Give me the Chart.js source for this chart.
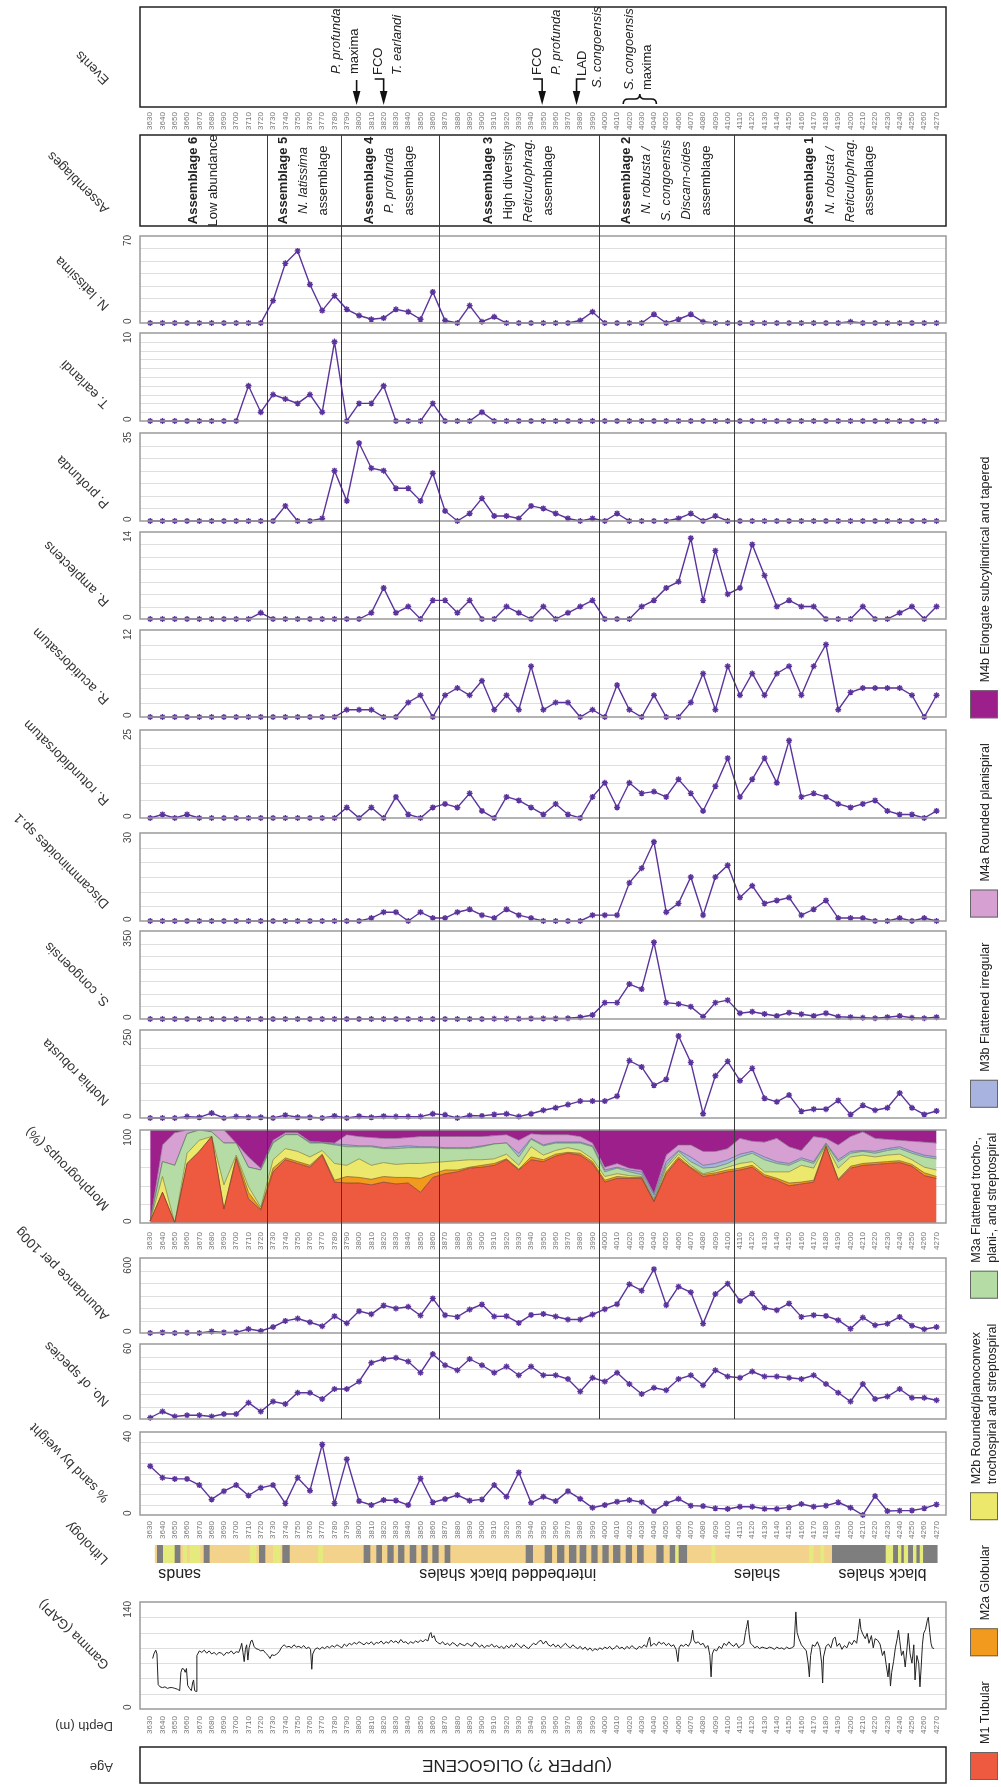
<!DOCTYPE html>
<html>
<head>
<meta charset="utf-8">
<title>Well section</title>
<script src="https://cdn.jsdelivr.net/npm/chart.js@4.4.1/dist/chart.umd.min.js"></script>
<style>
  html, body { margin: 0; padding: 0; background: #fff; }
  body { position: relative; width: 1001px; height: 1787px; overflow: hidden; }
  canvas { position: absolute; left: 0; }
</style>
</head>
<body>
<script>
// sample depths (m)
const depths = [3630, 3640, 3650, 3660, 3670, 3680, 3690, 3700, 3710, 3720,
  3730, 3740, 3750, 3760, 3770, 3780, 3790, 3800, 3810, 3820,
  3830, 3840, 3850, 3860, 3870, 3880, 3890, 3900, 3910, 3920,
  3930, 3940, 3950, 3960, 3970, 3980, 3990, 4000, 4010, 4020,
  4030, 4040, 4050, 4060, 4070, 4080, 4090, 4100, 4110, 4120,
  4130, 4140, 4150, 4160, 4170, 4180, 4190, 4200, 4210, 4220,
  4230, 4240, 4250, 4260, 4270];

const nLatissima = [0, 0, 0, 0, 0, 0, 0, 0, 0, 0,
  18, 48, 58, 31, 10, 22, 11, 6, 3, 4,
  11, 9, 3, 25, 2, 0, 14, 1, 5, 0,
  0, 0, 0, 0, 0, 2, 9, 0, 0, 0,
  0, 7, 0, 3, 7, 1, 0, 0, 0, 0,
  0, 0, 0, 0, 0, 0, 0, 1, 0, 0,
  0, 0, 0, 0, 0];
const tEarlandi = [0, 0, 0, 0, 0, 0, 0, 0, 4, 1,
  3, 2.5, 2, 3, 1, 9, 0, 2, 2, 4,
  0, 0, 0, 2, 0, 0, 0, 1, 0, 0,
  0, 0, 0, 0, 0, 0, 0, 0, 0, 0,
  0, 0, 0, 0, 0, 0, 0, 0, 0, 0,
  0, 0, 0, 0, 0, 0, 0, 0, 0, 0,
  0, 0, 0, 0, 0];
const pProfunda = [0, 0, 0, 0, 0, 0, 0, 0, 0, 0,
  0, 6, 0, 0, 1, 20, 8, 31, 21, 20,
  13, 13, 8, 19, 4, 0, 3, 9, 2, 2,
  1, 6, 5, 3, 1, 0, 1, 0, 3, 0,
  0, 0, 0, 1, 3, 0, 2, 0, 0, 0,
  0, 0, 0, 0, 0, 0, 0, 0, 0, 0,
  0, 0, 0, 0, 0];
const rAmplectens = [0, 0, 0, 0, 0, 0, 0, 0, 0, 1,
  0, 0, 0, 0, 0, 0, 0, 0, 1, 5,
  1, 2, 0, 3, 3, 1, 3, 0, 0, 2,
  1, 0, 2, 0, 1, 2, 3, 0, 0, 0,
  2, 3, 5, 6, 13, 3, 11, 4, 5, 12,
  7, 2, 3, 2, 2, 0, 0, 0, 2, 0,
  0, 1, 2, 0, 2];
const rAcutidorsatum = [0, 0, 0, 0, 0, 0, 0, 0, 0, 0,
  0, 0, 0, 0, 0, 0, 1, 1, 1, 0,
  0, 2, 3, 0, 3, 4, 3, 5, 1, 3,
  1, 7, 1, 2, 2, 0, 1, 0, 4.4, 1,
  0, 3, 0, 0, 2, 6, 1, 7, 3, 6,
  3, 6, 7, 3, 7, 10, 1, 3.4, 4, 4,
  4, 4, 3, 0, 3];
const rRotundidorsatum = [0, 1, 0, 1, 0, 0, 0, 0, 0, 0,
  0, 0, 0, 0, 0, 0, 3, 0, 3, 0,
  6, 1, 0, 3, 4, 3, 7, 2, 0, 6,
  5, 3, 1, 4, 1, 0, 6, 10, 3, 10,
  7, 7.5, 6, 11, 7, 2, 9, 17, 6, 11,
  17, 10, 22, 6, 7, 6, 4, 3, 4, 5,
  2, 1, 1, 0, 2];
const discamminoides = [0, 0, 0, 0, 0, 0, 0, 0, 0, 0,
  0, 0, 0, 0, 0, 0, 0, 0, 1, 3,
  3, 0, 3, 1, 1, 3, 4, 2, 1, 4,
  2, 1, 0, 0, 0, 0, 2, 2, 2, 13,
  18, 27, 3, 6, 15, 2, 15, 19, 8, 12,
  6, 7, 8, 2, 4, 7, 1, 1, 1, 0,
  0, 1, 0, 1, 0];
const sCongoensis = [0, 0, 0, 0, 0, 0, 0, 0, 0, 0,
  0, 0, 0, 0, 0, 0, 0, 0, 0, 0,
  0, 0, 0, 0, 0, 0, 0, 0, 1, 1,
  1, 2, 2, 2, 3, 7, 16, 65, 65, 139,
  119, 305, 65, 60, 49, 9, 65, 75, 23, 29,
  20, 12, 25, 19, 12, 23, 9, 7, 5, 3,
  7, 12, 5, 3, 7];
const nothiaRobusta = [0, 0, 0, 4, 2, 14, 0, 4, 2, 2,
  0, 8, 2, 2, 0, 6, 0, 5, 2, 5,
  4, 4, 4, 12, 9, 0, 7, 6, 10, 12,
  4, 12, 22, 29, 38, 48, 48, 48, 62, 163,
  145, 93, 110, 233, 158, 12, 120, 161, 106, 141,
  56, 46, 65, 19, 25, 25, 50, 10, 36, 22,
  29, 71, 29, 10, 20];

// morphogroup percentages, bottom (M1) to top (M4b)
const m1 = [2, 33, 0, 64, 77, 93, 15, 69, 26, 14,
  55, 68, 64, 60, 73, 44, 43, 43, 41, 44,
  42, 43, 33, 49, 53, 55, 59, 60, 62, 68,
  57, 68, 66, 72, 75, 73, 64, 44, 48, 48,
  48, 23, 53, 69, 59, 50, 52, 55, 57, 60,
  50, 46, 40, 42, 44, 82, 46, 59, 62, 63,
  64, 65, 61, 51, 48];
const m2a = [0, 0, 0, 0, 0, 0, 0, 2, 7, 1,
  4, 2, 2, 2, 1, 2, 7, 6, 6, 6,
  7, 6, 15, 4, 4, 2, 1, 2, 2, 1,
  1, 3, 2, 2, 1, 2, 2, 2, 2, 1,
  1, 0, 2, 2, 1, 2, 2, 2, 2, 2,
  2, 2, 3, 2, 2, 1, 1, 2, 2, 2,
  2, 2, 2, 3, 2];
const m2b = [0, 17, 0, 11, 12, 0, 26, 2, 6, 2,
  9, 10, 11, 9, 4, 18, 12, 20, 15, 15,
  14, 15, 16, 12, 9, 10, 8, 6, 5, 5,
  4, 11, 5, 4, 5, 3, 3, 4, 3, 2,
  1, 1, 4, 3, 2, 1, 2, 3, 5, 4,
  3, 7, 12, 18, 13, 1, 12, 10, 9, 6,
  7, 7, 5, 6, 7];
const m3a = [0, 16, 62, 21, 11, 5, 45, 13, 21, 40,
  18, 15, 18, 15, 8, 20, 20, 13, 20, 15,
  17, 17, 17, 16, 14, 13, 12, 14, 16, 12,
  9, 8, 10, 8, 5, 8, 13, 5, 6, 4,
  2, 2, 3, 3, 4, 6, 4, 4, 7, 9,
  13, 9, 7, 6, 5, 1, 7, 4, 4, 4,
  5, 6, 7, 11, 12];
const m3b = [0, 0, 0, 0, 0, 0, 0, 0, 0, 0,
  1, 0, 0, 1, 0, 1, 2, 1, 1, 1,
  2, 2, 1, 1, 1, 1, 1, 1, 0, 0,
  4, 1, 1, 1, 1, 1, 1, 2, 1, 2,
  3, 4, 4, 1, 5, 3, 4, 4, 3, 2,
  3, 2, 2, 2, 2, 1, 2, 2, 1, 2,
  2, 2, 2, 2, 2];
const m4a = [0, 18, 35, 4, 0, 2, 14, 0, 11, 2,
  2, 2, 2, 1, 1, 1, 11, 10, 9, 10,
  9, 9, 11, 11, 12, 12, 12, 10, 9, 9,
  14, 5, 11, 8, 8, 6, 3, 3, 4, 2,
  2, 2, 7, 6, 13, 15, 13, 12, 17, 11,
  16, 25, 18, 8, 27, 5, 16, 16, 20, 14,
  10, 7, 11, 14, 15];
const m4b = [98, 16, 3, 0, 0, 0, 0, 14, 29, 41,
  11, 3, 3, 12, 13, 14, 5, 7, 8, 9,
  9, 8, 7, 7, 7, 7, 7, 7, 6, 5,
  11, 4, 5, 5, 5, 7, 14, 40, 36, 41,
  43, 68, 27, 16, 16, 23, 23, 20, 9, 12,
  13, 9, 18, 22, 7, 9, 16, 7, 2, 9,
  10, 11, 12, 13, 14];
const morphLabels = ['M1 Tubular', 'M2a Globular',
  'M2b Rounded/planoconvex trochospiral and streptospiral',
  'M3a Flattened trocho-, plani-, and streptospiral',
  'M3b Flattened irregular', 'M4a Rounded planispiral',
  'M4b Elongate subcylindrical and tapered'];

const abundance = [0, 5, 0, 3, 0, 13, 5, 5, 32, 16,
  48, 97, 116, 86, 54, 135, 78, 175, 151, 221,
  196, 210, 140, 277, 143, 129, 188, 229, 132, 135,
  81, 145, 153, 132, 108, 108, 148, 191, 231, 390,
  339, 511, 223, 371, 326, 75, 312, 395, 256, 317,
  202, 183, 237, 129, 143, 137, 102, 35, 124, 62,
  75, 129, 59, 30, 48];
const species = [1, 6, 2, 3, 3, 2, 4, 4, 13, 6,
  14, 12, 21, 21, 16, 24, 24, 30, 45, 48,
  49, 46, 37, 52, 43, 39, 48, 43, 37, 42,
  35, 42, 35, 35, 32, 22, 33, 30, 37, 28,
  20, 25, 23, 32, 35, 27, 39, 34, 33, 38,
  34, 34, 33, 32, 35, 28, 21, 14, 28, 16,
  18, 24, 17, 17, 15];
const sandPct = [23.5, 18, 17.4, 17.4, 14.4, 7.5, 11.5, 14.4, 9.4, 13.1,
  14.4, 5.6, 18, 11.7, 34, 5.6, 26.9, 6.7, 4.8, 7.2,
  7, 4.8, 17.6, 6.1, 7.7, 9.6, 6.9, 7.5, 14.4, 8.8,
  20.5, 5.9, 8.8, 6.7, 11.5, 7.8, 3.5, 4.8, 6.4, 7.2,
  6.2, 1.9, 5.6, 7.8, 4.5, 4.3, 3.2, 2.9, 4, 4,
  3, 3, 3.7, 5.3, 4, 4.5, 6.1, 3.5, 0, 9.1,
  1.9, 2.1, 2.2, 3.2, 5.1];

// gamma ray log: [depth, GAPI]
const gammaLog = [[3632, 66], [3633, 72], [3634.5, 77], [3635.5, 72], [3636.5, 32], [3638, 29],
  [3640, 28], [3642, 29], [3644, 27], [3646, 28], [3648, 28], [3650, 27], [3652, 26], [3654, 24],
  [3655, 48], [3656, 53], [3657.5, 52], [3658.5, 48], [3659.5, 53], [3660.5, 31], [3662, 27],
  [3663.5, 24], [3664.5, 34], [3665.3, 38], [3666.2, 24], [3667.3, 23], [3668, 70], [3670, 76],
  [3672, 74], [3674, 77], [3676, 73], [3678, 76], [3680, 72], [3682, 74], [3684, 71], [3686, 74],
  [3688, 73], [3690, 70], [3692, 74], [3694, 73], [3696, 76], [3698, 72], [3700, 75], [3702, 74],
  [3703.5, 80], [3704.5, 86], [3705.5, 74], [3706.5, 62], [3707.5, 78], [3708.5, 84], [3709.5, 64],
  [3710.5, 80], [3712, 89], [3713, 90], [3714.5, 82], [3716, 79], [3718, 78], [3720, 76], [3722, 77],
  [3724, 73], [3726, 70], [3727.5, 66], [3729, 71], [3731, 70], [3733, 72], [3735, 75], [3737, 81],
  [3739, 84], [3741, 81], [3743, 82], [3745, 80], [3747, 84], [3749, 81], [3751, 82], [3753, 80],
  [3755, 83], [3757, 79], [3759, 81], [3760.5, 78], [3761.5, 52], [3762.3, 72], [3764, 78], [3766, 80],
  [3768, 78], [3770, 81], [3772, 79], [3774, 82], [3776, 80], [3778, 83], [3780, 81], [3782, 84],
  [3784, 82], [3786, 80], [3788, 85], [3790, 82], [3792, 86], [3794, 84], [3796, 87], [3798, 85],
  [3800, 88], [3802, 86], [3804, 84], [3806, 87], [3808, 85], [3810, 88], [3812, 84], [3814, 87],
  [3816, 86], [3818, 89], [3820, 85], [3822, 88], [3824, 86], [3826, 90], [3828, 87], [3830, 89],
  [3832, 86], [3834, 91], [3836, 87], [3838, 88], [3840, 85], [3842, 88], [3844, 86], [3846, 89],
  [3848, 87], [3850, 90], [3852, 88], [3854, 91], [3856, 89], [3857.5, 98], [3858.5, 100], [3859.5, 93],
  [3861, 96], [3862.5, 89], [3864, 87], [3866, 85], [3868, 88], [3870, 84], [3872, 86], [3874, 83],
  [3876, 87], [3878, 85], [3880, 82], [3882, 86], [3884, 84], [3886, 83], [3888, 86], [3890, 84],
  [3892, 82], [3894, 87], [3896, 85], [3898, 81], [3900, 84], [3902, 80], [3904, 83], [3906, 82],
  [3908, 85], [3910, 81], [3912, 83], [3914, 80], [3916, 82], [3918, 79], [3920, 83], [3922, 80],
  [3924, 84], [3926, 81], [3928, 86], [3930, 83], [3932, 80], [3934, 84], [3936, 81], [3938, 79],
  [3940, 83], [3942, 86], [3944, 84], [3946, 88], [3948, 90], [3950, 85], [3952, 89], [3954, 84],
  [3956, 82], [3958, 85], [3960, 81], [3962, 84], [3964, 80], [3966, 83], [3968, 86], [3970, 82],
  [3972, 80], [3974, 84], [3976, 81], [3978, 79], [3980, 82], [3982, 78], [3984, 81], [3986, 77],
  [3988, 80], [3990, 76], [3992, 79], [3994, 77], [3996, 80], [3998, 78], [4000, 81], [4002, 79],
  [4004, 82], [4006, 78], [4008, 80], [4010, 83], [4012, 79], [4014, 81], [4016, 78], [4018, 82],
  [4020, 79], [4022, 83], [4024, 80], [4026, 78], [4028, 82], [4030, 80], [4032, 84], [4034, 81],
  [4035.5, 90], [4036.5, 94], [4037.5, 82], [4040, 86], [4042, 83], [4044, 88], [4046, 85], [4048, 87],
  [4050, 83], [4052, 86], [4054, 82], [4056, 84], [4058, 78], [4059.5, 62], [4060.5, 80], [4062, 84],
  [4064, 82], [4066, 85], [4068, 82], [4070, 88], [4071.5, 103], [4072.5, 90], [4074, 86], [4076, 88],
  [4078, 84], [4080, 86], [4082, 80], [4084, 83], [4085.5, 70], [4086.5, 42], [4087.5, 72], [4089, 78],
  [4091, 76], [4093, 82], [4095, 79], [4097, 86], [4099, 83], [4101, 88], [4103, 84], [4105, 82],
  [4107, 86], [4109, 80], [4111, 83], [4113, 85], [4114.5, 100], [4115.5, 108], [4116.5, 116],
  [4117.5, 98], [4118.5, 86], [4120, 84], [4122, 80], [4124, 82], [4126, 79], [4128, 81], [4130, 80],
  [4132, 79], [4134, 81], [4136, 80], [4138, 78], [4140, 81], [4142, 79], [4144, 80], [4146, 78],
  [4148, 81], [4150, 79], [4152, 80], [4154, 82], [4155.5, 127], [4156.5, 100], [4158, 92], [4160, 84],
  [4162, 80], [4164, 76], [4165.5, 60], [4166.5, 42], [4167.5, 70], [4169, 84], [4171, 82], [4173, 88],
  [4175, 80], [4176.5, 60], [4177.3, 34], [4178, 68], [4180, 82], [4182, 85], [4184, 80], [4186, 92],
  [4187.5, 94], [4189, 82], [4191, 86], [4193, 78], [4195, 83], [4197, 80], [4199, 88], [4201, 84],
  [4203, 90], [4205, 86], [4206.5, 104], [4207.5, 118], [4208.5, 104], [4210, 98], [4212, 92],
  [4213.5, 99], [4215, 86], [4217, 96], [4218.5, 80], [4220, 92], [4222, 90], [4224, 85], [4226, 70],
  [4227.5, 76], [4229, 58], [4230.5, 42], [4231.5, 60], [4232.5, 30], [4233.5, 48], [4235, 62],
  [4236.5, 80], [4238, 92], [4239, 103], [4240, 90], [4241.5, 70], [4243, 76], [4244.5, 55], [4246, 80],
  [4247, 99], [4248.5, 72], [4250, 60], [4251.5, 84], [4252.5, 38], [4254, 70], [4255.5, 60],
  [4256.5, 29], [4257.5, 55], [4258.5, 84], [4259.5, 99], [4261, 104], [4262.5, 116], [4263.3, 120],
  [4264.5, 100], [4265.5, 86], [4266.5, 80], [4268, 79]];

// lithology intervals: [top, base, kind]
const lithology = [[3634, 4270.5, 'mud'],
  [3635.8, 3640.7, 'shale'], [3640.7, 3650.2, 'sand'], [3650.2, 3654.3, 'shale'], [3657, 3659.7, 'sand'],
  [3662.4, 3670.5, 'sand'], [3673.8, 3678.1, 'shale'], [3711.2, 3716.1, 'sand'], [3718.8, 3723.4, 'shale'],
  [3730.2, 3735.7, 'sand'], [3737.8, 3743.3, 'shale'], [3766.9, 3770.4, 'sand'], [3804, 3808.9, 'shale'],
  [3814.3, 3818.4, 'shale'], [3823.3, 3827.9, 'shale'], [3832, 3836.6, 'shale'], [3841.5, 3846.3, 'shale'],
  [3850.9, 3855.6, 'shale'], [3859.9, 3864.5, 'shale'], [3869.9, 3874, 'shale'], [3935.9, 3941.3, 'shale'],
  [3951.3, 3956.8, 'shale'], [3961.4, 3966.8, 'shale'], [3971.1, 3976.6, 'shale'], [3979.8, 3984.7, 'shale'],
  [3989.3, 3993.9, 'shale'], [3998.3, 4002.9, 'shale'], [4007, 4012.4, 'shale'], [4017.3, 4021.9, 'shale'],
  [4026.5, 4031.4, 'shale'], [4042.2, 4047.6, 'shale'], [4053.1, 4057.2, 'shale'], [4057.7, 4059.9, 'sand'],
  [4060.4, 4066.7, 'shale'], [4087, 4089.7, 'sand'], [4166.5, 4169.7, 'sand'], [4175.7, 4178.4, 'sand'],
  [4185.2, 4228.9, 'shale'], [4228.9, 4234.9, 'sand'], [4234.9, 4238.9, 'shale'], [4238.9, 4241.6, 'sand'],
  [4241.6, 4243.6, 'shale'], [4243.6, 4247.1, 'sand'], [4247.1, 4251.1, 'shale'], [4251.1, 4253.9, 'sand'],
  [4253.9, 4256.6, 'shale'], [4256.6, 4259.3, 'sand'], [4259.3, 4270.5, 'shale']];
const lithLabels = [['sands', 3654], ['interbedded black shales', 3921], ['shales', 4124], ['black shales', 4226]];

const assemblageBounds = [3725, 3785, 3865, 3995, 4105];
const assemblageText = [
  [['Assemblage 6', 'b'], ['Low abundance', 'n']],
  [['Assemblage 5', 'b'], ['N. latissima', 'i'], ['assemblage', 'n']],
  [['Assemblage 4', 'b'], ['P. profunda', 'i'], ['assemblage', 'n']],
  [['Assemblage 3', 'b'], ['High diversity', 'n'], ['Reticulophrag.', 'i'], ['assemblage', 'n']],
  [['Assemblage 2', 'b'], ['N. robusta /', 'i'], ['S. congoensis', 'i'], ['Discam-oides', 'i'], ['assemblage', 'n']],
  [['Assemblage 1', 'b'], ['N. robusta /', 'i'], ['Reticulophrag.', 'i'], ['assemblage', 'n']]
];
const events = [
  { depth: 3798, kind: 'arrow', lines: [['P. profunda', 'i'], ['maxima', 'n']] },
  { depth: 3820, kind: 'hookL', lines: [['FCO', 'n'], ['T. earlandi', 'i']] },
  { depth: 3949, kind: 'hookL', lines: [['FCO', 'n'], ['P. profunda', 'i']] },
  { depth: 3977, kind: 'hookR', lines: [['LAD', 'n'], ['S. congoensis', 'i']] },
  { depth: [4015, 4042], kind: 'brace', lines: [['S. congoensis', 'i'], ['maxima', 'n']] }
];

// ---------- styling / layout ----------
const FONT = '"Liberation Sans", Arial, Helvetica, sans-serif';
const PURPLE = '#5b339c';
const X_MIN = 3621.7, X_MAX = 4277.7;
const PAD_L = 140, PAD_R = 55, W = 1001;
const morphColors = ['#ee5a40', '#f29a1d', '#ece86c', '#b4dca4', '#a9b3df', '#d6a0d3', '#9c1f8c'];
const morphEdges = ['#7a3a2a', '#7d5a1c', '#7d7a3a', '#5d7a55', '#5d6488', '#7d5a7b', '#5a1452'];
const lithColors = { mud: '#f3d28b', shale: '#7e7e7e', sand: '#e5ea7c' };

function makeCanvas(top, height, z) {
  const c = document.createElement('canvas');
  c.width = W;
  c.height = height;
  c.style.top = top + 'px';
  c.style.zIndex = z;
  document.body.appendChild(c);
  return c;
}

function rotText(ctx, text, x, y, angle, align, font, color) {
  ctx.save();
  ctx.translate(x, y);
  ctx.rotate(angle);
  ctx.font = font;
  ctx.fillStyle = color || '#222';
  ctx.textAlign = align;
  ctx.textBaseline = 'middle';
  ctx.fillText(text, 0, 0);
  ctx.restore();
}

function styleFont(s, size) {
  if (s === 'b') return 'bold ' + size + 'px ' + FONT;
  if (s === 'i') return 'italic ' + size + 'px ' + FONT;
  return size + 'px ' + FONT;
}

const baseOptions = (pt, pb) => ({
  responsive: false,
  animation: false,
  devicePixelRatio: 1,
  events: [],
  layout: { padding: { left: PAD_L, right: PAD_R, top: pt, bottom: pb } },
  plugins: { legend: { display: false }, tooltip: { enabled: false } }
});

function panelDecor(p) {
  return {
    id: 'panelDecor',
    beforeDatasetsDraw(chart) {
      const { ctx, chartArea: a, scales: { y } } = chart;
      ctx.save();
      ctx.strokeStyle = '#dedede';
      ctx.lineWidth = 1;
      for (let v = p.step; v < p.max - 1e-6; v += p.step) {
        const py = Math.round(y.getPixelForValue(v)) + 0.5;
        ctx.beginPath();
        ctx.moveTo(a.left, py);
        ctx.lineTo(a.right, py);
        ctx.stroke();
      }
      ctx.restore();
    },
    afterDatasetsDraw(chart) {
      const { ctx, chartArea: a, scales: { y } } = chart;
      ctx.save();
      ctx.strokeStyle = '#9a9a9a';
      ctx.lineWidth = 1.5;
      ctx.strokeRect(a.left, a.top, a.right - a.left, a.bottom - a.top);
      ctx.restore();
      rotText(ctx, String(p.max), 128, y.getPixelForValue(p.max) - 1, -Math.PI / 2, 'right', '10px ' + FONT, '#444');
      rotText(ctx, '0', 128, y.getPixelForValue(0) + 1, -Math.PI / 2, 'left', '10px ' + FONT, '#444');
      rotText(ctx, p.title, 107, a.bottom - (p.titleOff || 15), -3 * Math.PI / 4, 'left', '13.5px ' + FONT, '#333');
    }
  };
}

const PT = 110, PB = 20;

function linePanel(p) {
  const canvas = makeCanvas(p.top - PT, p.bottom - p.top + PT + PB, 1);
  const opts = baseOptions(PT, PB);
  opts.scales = {
    x: { type: 'linear', min: X_MIN, max: X_MAX, display: false },
    y: { type: 'linear', min: 0, max: p.max, display: false }
  };
  return new Chart(canvas, {
    type: 'line',
    data: {
      datasets: [{
        data: p.points,
        borderColor: p.color || PURPLE,
        backgroundColor: p.color || PURPLE,
        borderWidth: p.lineWidth || 1.4,
        pointStyle: 'star',
        pointRadius: p.pointRadius === undefined ? 3 : p.pointRadius,
        pointBorderWidth: 1.4,
        pointBorderColor: PURPLE,
        tension: 0,
        clip: 8
      }]
    },
    options: opts,
    plugins: [panelDecor(p)]
  });
}

const sampled = vals => depths.map((d, i) => ({ x: d, y: vals[i] }));

const PANELS = [
  { title: 'N. latissima', values: nLatissima, max: 70, step: 10, top: 236, bottom: 323 },
  { title: 'T. earlandi', values: tEarlandi, max: 10, step: 1, top: 333, bottom: 421 },
  { title: 'P. profunda', values: pProfunda, max: 35, step: 5, top: 433, bottom: 521 },
  { title: 'R. amplectens', values: rAmplectens, max: 14, step: 2, top: 532, bottom: 619 },
  { title: 'R. acutidorsatum', values: rAcutidorsatum, max: 12, step: 2, top: 630, bottom: 717 },
  { title: 'R. rotundidorsatum', values: rRotundidorsatum, max: 25, step: 5, top: 730, bottom: 818 },
  { title: 'Discamminoides sp.1', values: discamminoides, max: 30, step: 5, top: 833, bottom: 921 },
  { title: 'S. congoensis', values: sCongoensis, max: 350, step: 50, top: 931, bottom: 1019 },
  { title: 'Nothia robusta', values: nothiaRobusta, max: 250, step: 50, top: 1030, bottom: 1118 },
  { title: 'Abundance per 100g', values: abundance, max: 600, step: 100, top: 1258, bottom: 1333 },
  { title: 'No. of species', values: species, max: 60, step: 10, top: 1344, bottom: 1419 },
  { title: '% sand by weight', values: sandPct, max: 40, step: 5, top: 1432, bottom: 1515 }
];
PANELS.forEach(p => linePanel(Object.assign({ points: sampled(p.values) }, p)));

// gamma ray log
linePanel({
  title: 'Gamma (GAPI)', max: 140, step: 20, top: 1602, bottom: 1709, titleOff: 42,
  points: gammaLog.map(([d, v]) => ({ x: d, y: v })),
  color: '#222', lineWidth: 1, pointRadius: 0
});

// morphogroups stacked area
(function () {
  const top = 1130, bottom = 1223;
  const canvas = makeCanvas(top - PT, bottom - top + PT + PB, 1);
  const opts = baseOptions(PT, PB);
  opts.scales = {
    x: { type: 'linear', min: X_MIN, max: X_MAX, display: false },
    y: { type: 'linear', min: 0, max: 100, stacked: true, display: false }
  };
  const series = [m1, m2a, m2b, m3a, m3b, m4a, m4b];
  new Chart(canvas, {
    type: 'line',
    data: {
      datasets: series.map((vals, k) => ({
        label: morphLabels[k],
        data: sampled(vals),
        backgroundColor: morphColors[k],
        borderColor: morphEdges[k],
        borderWidth: 0.7,
        pointRadius: 0,
        tension: 0,
        fill: k === 0 ? 'origin' : '-1'
      }))
    },
    options: opts,
    plugins: [panelDecor({ title: 'Morphogroups (%)', max: 100, step: 20 })]
  });
})();

// lithology column
(function () {
  const top = 1545, bottom = 1563, pad = 20;
  const canvas = makeCanvas(top - pad, bottom - top + 2 * pad, 1);
  const opts = baseOptions(pad, pad);
  opts.indexAxis = 'y';
  opts.scales = {
    x: { type: 'linear', min: X_MIN, max: X_MAX, display: false },
    y: { type: 'category', labels: ['lith'], display: false }
  };
  new Chart(canvas, {
    type: 'bar',
    data: {
      labels: ['lith'],
      datasets: [{
        data: lithology.map(([a, b]) => ({ x: [a, b], y: 'lith' })),
        backgroundColor: lithology.map(l => lithColors[l[2]]),
        borderWidth: 0,
        barPercentage: 1,
        categoryPercentage: 1,
        grouped: false
      }]
    },
    options: opts
  });
})();

// frame: events, assemblages, depth scales, legend
const framePlugin = {
  id: 'frame',
  afterDraw(chart) {
    const ctx = chart.ctx;
    const xs = chart.scales.x;
    const px = d => xs.getPixelForValue(d);
    const L = 140, R = 946;

    ctx.save();
    ctx.strokeStyle = '#222';
    ctx.lineWidth = 1.5;
    ctx.strokeRect(L, 7, R - L, 100);
    ctx.strokeRect(L, 135, R - L, 91);
    ctx.strokeRect(L, 1747, R - L, 36);

    // assemblage boundaries
    ctx.strokeStyle = '#3a3a3a';
    ctx.lineWidth = 1;
    assemblageBounds.forEach(b => {
      const xp = Math.round(px(b)) + 0.5;
      ctx.beginPath();
      ctx.moveTo(xp, 135);
      ctx.lineTo(xp, 1419);
      ctx.stroke();
    });
    ctx.restore();

    // assemblage labels
    const edges = [X_MIN, ...assemblageBounds, X_MAX];
    assemblageText.forEach((lines, k) => {
      const cx = (px(edges[k]) + px(edges[k + 1])) / 2;
      lines.forEach(([t, s], j) => {
        rotText(ctx, t, cx + (j - (lines.length - 1) / 2) * 20, 180.5, -Math.PI / 2, 'center', styleFont(s, 13), '#222');
      });
    });

    // events
    ctx.save();
    ctx.strokeStyle = '#111';
    ctx.fillStyle = '#111';
    ctx.lineWidth = 1.6;
    const arrowHead = xp => {
      ctx.beginPath();
      ctx.moveTo(xp - 3.8, 91);
      ctx.lineTo(xp + 3.8, 91);
      ctx.lineTo(xp, 105);
      ctx.closePath();
      ctx.fill();
    };
    events.forEach(ev => {
      if (ev.kind === 'brace') {
        const x1 = px(ev.depth[0]), x2 = px(ev.depth[1]), mid = (x1 + x2) / 2;
        ctx.beginPath();
        ctx.moveTo(x1, 104);
        ctx.quadraticCurveTo(x1, 99, x1 + 5, 99);
        ctx.lineTo(mid - 5, 99);
        ctx.quadraticCurveTo(mid, 99, mid, 94);
        ctx.quadraticCurveTo(mid, 99, mid + 5, 99);
        ctx.lineTo(x2 - 5, 99);
        ctx.quadraticCurveTo(x2, 99, x2, 104);
        ctx.stroke();
        rotText(ctx, ev.lines[0][0], mid - 10, 90, -Math.PI / 2, 'left', styleFont(ev.lines[0][1], 13));
        rotText(ctx, ev.lines[1][0], mid + 8, 90, -Math.PI / 2, 'left', styleFont(ev.lines[1][1], 13));
        return;
      }
      const xp = px(ev.depth);
      ctx.beginPath();
      if (ev.kind === 'arrow') {
        ctx.moveTo(xp, 80);
      } else if (ev.kind === 'hookL') {
        ctx.moveTo(xp - 9, 79);
        ctx.lineTo(xp, 79);
      } else {
        ctx.moveTo(xp + 9, 79);
        ctx.lineTo(xp, 79);
      }
      ctx.lineTo(xp, 93);
      ctx.stroke();
      arrowHead(xp);
      let pos;
      if (ev.kind === 'arrow') pos = [[xp - 20, 74], [xp - 2, 74]];
      else if (ev.kind === 'hookL') pos = [[xp - 5, 75], [xp + 14, 75]];
      else pos = [[xp + 6, 76], [xp + 21, 88]];
      ev.lines.forEach(([t, s], j) => rotText(ctx, t, pos[j][0], pos[j][1], -Math.PI / 2, 'left', styleFont(s, 13)));
    });
    ctx.restore();

    // depth scales
    [121, 1241, 1530, 1725].forEach(row => {
      depths.forEach(d => rotText(ctx, String(d), px(d), row, -Math.PI / 2, 'center', '8px ' + FONT, '#777'));
    });

    // lithology labels
    lithLabels.forEach(([t, d]) => rotText(ctx, t, px(d), 1573, Math.PI, 'center', '16px ' + FONT, '#222'));

    // age
    rotText(ctx, '(UPPER ?) OLIGOCENE', 517, 1765, Math.PI, 'center', '17px ' + FONT, '#222');

    // column titles
    const diag = -3 * Math.PI / 4, tf = '13.5px ' + FONT;
    rotText(ctx, 'Events', 107, 82, diag, 'left', tf, '#333');
    rotText(ctx, 'Assemblages', 107, 211, diag, 'left', tf, '#333');
    rotText(ctx, 'Lithology', 106, 1562, diag, 'left', tf, '#333');
    rotText(ctx, 'Depth (m)', 113, 1726, Math.PI, 'left', '13px ' + FONT, '#333');
    rotText(ctx, 'Age', 113, 1767, Math.PI, 'left', '13px ' + FONT, '#333');

    // legend (runs bottom to top)
    const legendLines = [['M1 Tubular'], ['M2a Globular'],
      ['M2b Rounded/planoconvex', 'trochospiral and streptospiral'],
      ['M3a Flattened trocho-,', 'plani-, and streptospiral'],
      ['M3b Flattened irregular'], ['M4a Rounded planispiral'],
      ['M4b Elongate subcylindrical and tapered']];
    let base = 1780;
    ctx.save();
    ctx.font = '12.5px ' + FONT;
    legendLines.forEach((lines, k) => {
      const top = base - 28;
      ctx.fillStyle = morphColors[k];
      ctx.fillRect(970, top, 28, 28);
      ctx.strokeStyle = '#666';
      ctx.lineWidth = 1;
      ctx.strokeRect(970.5, top + 0.5, 27, 27);
      const w = Math.max(...lines.map(l => ctx.measureText(l).width));
      const lx = lines.length === 1 ? [986] : [977, 993];
      lines.forEach((l, j) => rotText(ctx, l, lx[j], top - 8, -Math.PI / 2, 'left', '12.5px ' + FONT, '#222'));
      base = top - 8 - w - 25;
    });
    ctx.restore();
  }
};

(function () {
  const canvas = makeCanvas(0, 1787, 5);
  const opts = baseOptions(0, 0);
  opts.scales = {
    x: { type: 'linear', min: X_MIN, max: X_MAX, display: false },
    y: { type: 'linear', min: 0, max: 1, display: false }
  };
  new Chart(canvas, { type: 'scatter', data: { datasets: [] }, options: opts, plugins: [framePlugin] });
})();
</script>
</body>
</html>
